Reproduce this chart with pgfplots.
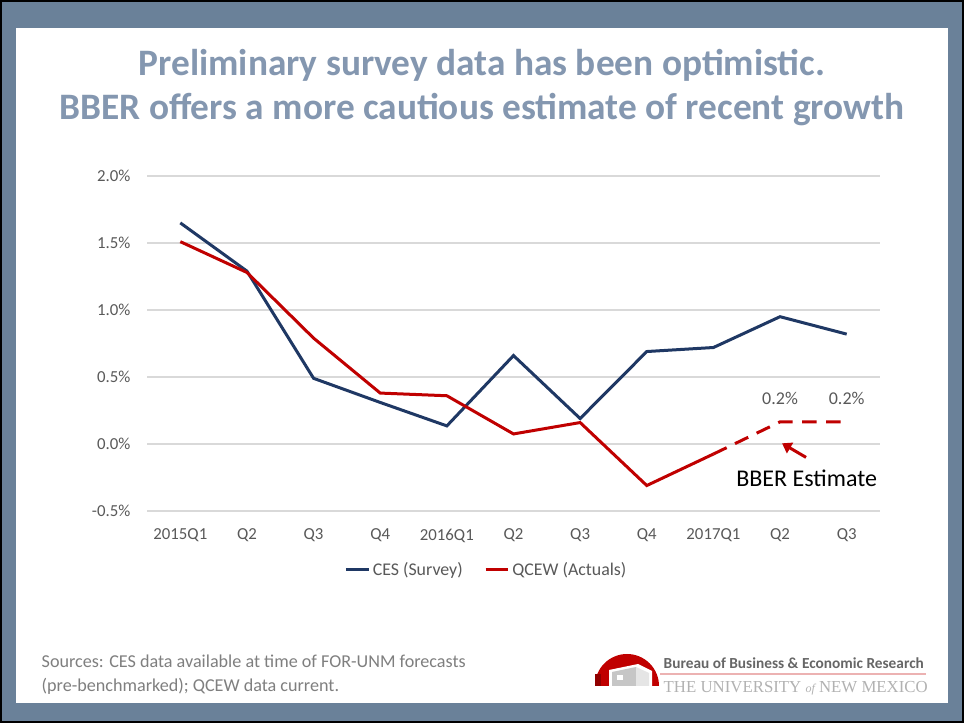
\documentclass[border=0pt]{standalone}
\usepackage{fontspec}
\setmainfont{Carlito}
\newfontfamily\serifu{Liberation Serif}
\usepackage{pgfplots}
\pgfplotsset{compat=1.18}
\usetikzlibrary{arrows.meta}
\definecolor{slate}{HTML}{6A8199}
\definecolor{titlec}{HTML}{8497B0}
\definecolor{cesc}{HTML}{1F3864}
\definecolor{qcewc}{HTML}{C00000}
\definecolor{tickc}{HTML}{595959}
\definecolor{gridc}{HTML}{D9D9D9}
\definecolor{srcc}{HTML}{7F7F7F}
\begin{document}
\begin{tikzpicture}
% background in pixel coords (1px = 0.75pt, y down)
\begin{scope}[x=0.75pt,y=-0.75pt,shift={(0,542.25pt)}]
\fill[slate] (0,0) rectangle (964,723);
\draw[black,line width=1.5pt] (1,1) rectangle (963,722);
\fill[white] (16,28) rectangle (948,703);
\node[font=\bfseries\fontsize{28}{33}\selectfont,text=titlec,align=center] at (482,88) {Preliminary survey data has been optimistic.\\BBER offers a more cautious estimate of recent growth};
\node[font=\fontsize{13.6}{18}\selectfont,text=srcc,align=left,anchor=west] at (37,675) {Sources: CES data available at time of FOR-UNM forecasts\\(pre-benchmarked); QCEW data current.};
% logo
\fill[qcewc] (595,686) arc[start angle=180,end angle=360,radius=32] -- cycle;
\fill[white] (609,686) -- (609,670) -- (638,664) -- (652,671) -- (652,686) -- cycle;
\fill[gray!45] (612,686) -- (612,672) -- (636,667) -- (636,686) -- cycle;
\fill[gray!20] (636,667) -- (649,673) -- (649,686) -- (636,686) -- cycle;
\fill[white] (617,680) rectangle (623,675);
\fill[qcewc!75!black] (595,686) rectangle (601,674);
\node[font=\bfseries\fontsize{11.5}{12}\selectfont,text=black!60,anchor=west] at (659,663) {Bureau of Business \& Economic Research};
\draw[qcewc!30,line width=0.8pt] (660,674) -- (926,674);
\node[font=\serifu\fontsize{12.6}{13}\selectfont,text=gray!60,anchor=west] at (659,688) {THE UNIVERSITY {\itshape\fontsize{9}{9}\selectfont of} NEW MEXICO};
\end{scope}
\begin{axis}[
  at={(110.25pt,159pt)}, anchor=south west,
  width=549.75pt, height=251.25pt, scale only axis,
  xmin=-0.5, xmax=10.5, ymin=-0.5, ymax=2.0,
  axis line style={draw=none},
  major tick length=0pt,
  xtick={0,...,10},
  xticklabels={2015Q1,Q2,Q3,Q4,2016Q1,Q2,Q3,Q4,2017Q1,Q2,Q3},
  ytick={-0.5,0,0.5,1,1.5,2},
  yticklabels={-0.5\%,0.0\%,0.5\%,1.0\%,1.5\%,2.0\%},
  ymajorgrids, grid style={gridc,line width=0.8pt},
  tick label style={font=\fontsize{12.6}{14}\selectfont,text=tickc},
  xticklabel style={yshift=-10pt},
  yticklabel style={xshift=-9pt},
  legend style={at={(0.4635,-0.176)},anchor=center,draw=none,legend columns=2,
    font=\fontsize{13.4}{15}\selectfont,text=tickc,
    /tikz/every even column/.append style={column sep=14pt}},
  legend image code/.code={\draw[#1,line width=2.25pt] (0pt,0pt) -- (17pt,0pt);},
  clip=false,
]
\addplot[cesc,line width=2.25pt] coordinates {
(0,1.65) (1,1.29) (2,0.49) (3,0.31) (4,0.135) (5,0.66) (6,0.19) (7,0.69) (8,0.72) (9,0.95) (10,0.82)};
\addlegendentry{CES (Survey)}
\addplot[qcewc,line width=2.25pt] coordinates {
(0,1.51) (1,1.28) (2,0.79) (3,0.38) (4,0.36) (5,0.075) (6,0.16) (7,-0.31) (8,-0.075)};
\addlegendentry{QCEW (Actuals)}
\addplot[qcewc,line width=2.25pt,dash pattern=on 11pt off 7pt,forget plot] coordinates {
(8,-0.075) (9,0.165) (10,0.165)};
\node[font=\fontsize{13.5}{15}\selectfont,text=tickc] at (axis cs:9,0.34) {0.2\%};
\node[font=\fontsize{13.5}{15}\selectfont,text=tickc] at (axis cs:10,0.34) {0.2\%};
\draw[qcewc,line width=2.25pt,-{Triangle[length=7pt,width=9pt]}] (axis cs:9.39,-0.10) -- (axis cs:9.03,0.005);
\node[font=\fontsize{18}{20}\selectfont,text=black] at (axis cs:9.40,-0.255) {BBER Estimate};
\end{axis}
\end{tikzpicture}
\end{document}
